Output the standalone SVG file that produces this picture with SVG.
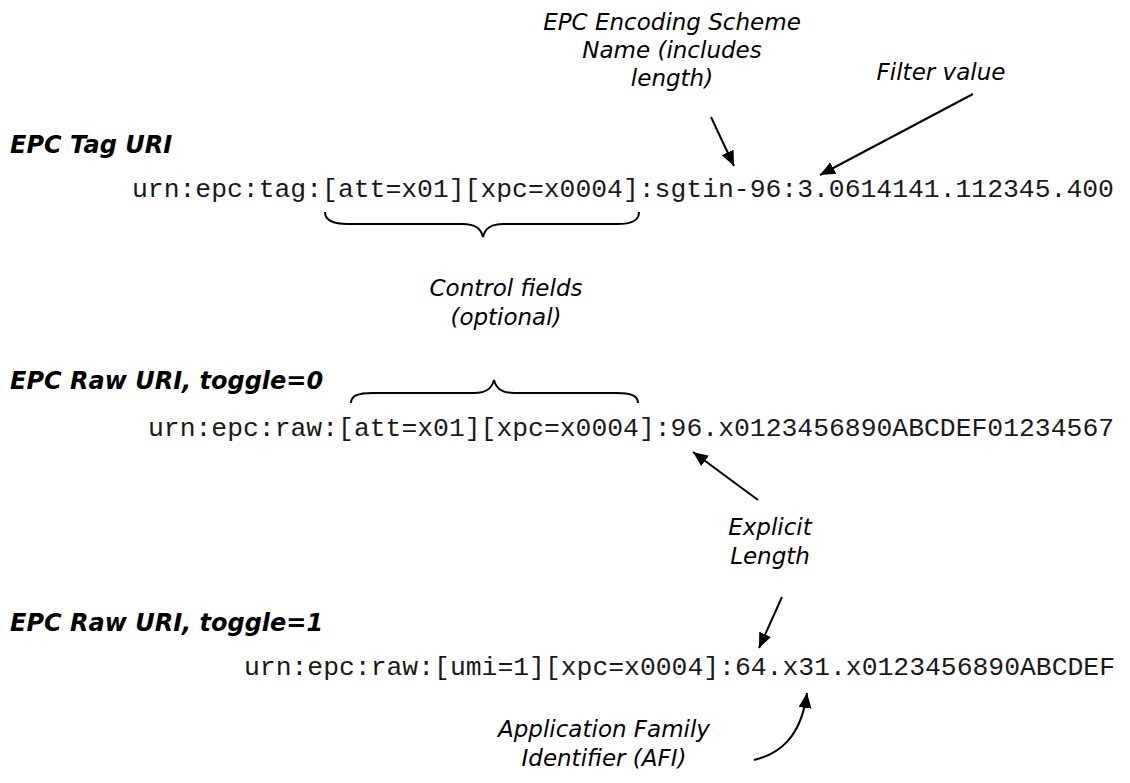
<svg xmlns="http://www.w3.org/2000/svg" width="1130" height="783" viewBox="0 0 1130 783">
<defs>
<marker id="ah" markerUnits="userSpaceOnUse" markerWidth="16" markerHeight="14" refX="15" refY="6.5" orient="auto">
<path d="M0,0 L15,6.5 L0,13 z" fill="#000"/>
</marker>
<style>
.hd{font-family:"DejaVu Sans",Verdana,sans-serif;font-weight:bold;font-style:italic;font-size:24px;fill:#000}
.lb{font-family:"DejaVu Sans",Verdana,sans-serif;font-style:italic;font-size:23px;fill:#000;text-anchor:middle}
.uri{font-family:"Liberation Mono","Courier New",monospace;font-size:26.4px;fill:#1a1a1a}
.ln{fill:none;stroke:#000;stroke-width:2}
.ar{fill:none;stroke:#000;stroke-width:2;marker-end:url(#ah)}
</style>
</defs>
<rect width="1130" height="783" fill="#fff"/>
<g id="heading-tag"><text class="hd" x="10" y="153">EPC Tag URI</text></g>
<g id="heading-raw0"><text class="hd" x="10" y="389">EPC Raw URI, toggle=0</text></g>
<g id="heading-raw1"><text class="hd" x="10" y="631">EPC Raw URI, toggle=1</text></g>
<g id="uri-tag"><text class="uri" x="132" y="197">urn:epc:tag:[att=x01][xpc=x0004]:sgtin-96:3.0614141.112345.400</text></g>
<g id="uri-raw0"><text class="uri" x="148" y="436">urn:epc:raw:[att=x01][xpc=x0004]:96.x0123456890ABCDEF01234567</text></g>
<g id="uri-raw1"><text class="uri" x="244" y="675">urn:epc:raw:[umi=1][xpc=x0004]:64.x31.x0123456890ABCDEF</text></g>
<g id="label-scheme"><text class="lb" x="672" y="30">EPC Encoding Scheme</text><text class="lb" x="672" y="58">Name (includes</text><text class="lb" x="672" y="86">length)</text></g>
<g id="label-filter"><text class="lb" x="941" y="80">Filter value</text></g>
<g id="label-control"><text class="lb" x="506" y="296">Control fields</text><text class="lb" x="506" y="325">(optional)</text></g>
<g id="label-length"><text class="lb" x="770" y="535">Explicit</text><text class="lb" x="770" y="564">Length</text></g>
<g id="label-afi"><text class="lb" x="604" y="737">Application Family</text><text class="lb" x="604" y="766">Identifier (AFI)</text></g>
<g id="connectors">
<path class="ln" d="M325,212 C325,220 332,224 348,224 L462,224 C476,224 481,229 483,237 C485,229 490,224 504,224 L617,224 C633,224 639,220 639,212"/>
<path class="ln" d="M351,403 C351,396 357,393 373,393 L474,393 C487,393 492,388 494,380 C496,388 501,393 514,393 L616,393 C632,393 638,396 638,403"/>
<path class="ar" d="M711,117 L734,166"/>
<path class="ar" d="M973,94 L820,175"/>
<path class="ar" d="M758,500 L693,452"/>
<path class="ar" d="M782,597 L759,648"/>
<path class="ar" d="M754,760 C779,754 801,738 807,693"/>
</g>
</svg>
